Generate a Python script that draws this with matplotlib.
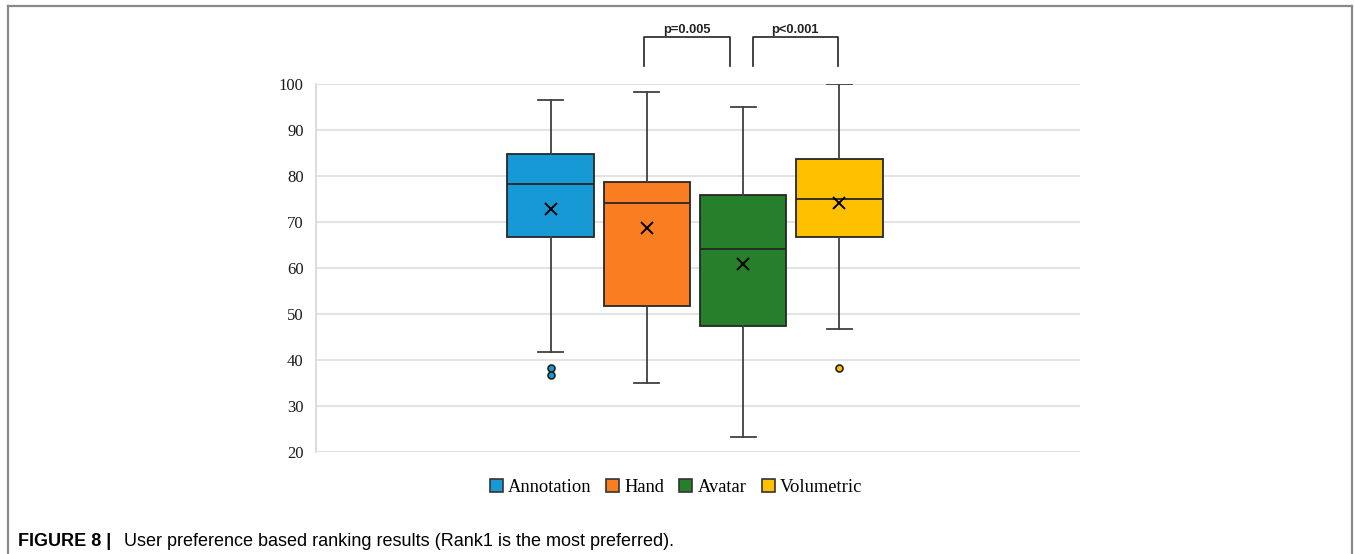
import matplotlib
matplotlib.use("Agg")
import matplotlib.pyplot as plt
from matplotlib.lines import Line2D
from matplotlib.patches import Patch

# data
categories = ["Annotation", "Hand", "Avatar", "Volumetric"]
whisker_low = [41.7, 35.0, 23.3, 46.7]
q1 = [66.7, 51.8, 47.5, 66.7]
medians = [78.3, 74.1, 64.1, 75.0]
q3 = [84.8, 78.8, 75.8, 83.7]
whisker_high = [96.5, 98.3, 95.0, 100.0]
means = [72.9, 68.8, 60.9, 74.2]
outliers = [[38.3, 36.7], [], [], [38.3]]
colors = ["#1799d6", "#fb7d22", "#267f2b", "#ffc000"]
yticks = [20, 30, 40, 50, 60, 70, 80, 90, 100]
pvalues = ["p=0.005", "p<0.001"]

fig = plt.figure(figsize=(13.54, 5.54), dpi=100)
ax = fig.add_axes([316 / 1354, 1 - 452 / 554, (1080 - 316) / 1354, (452 - 84) / 554])

positions = [1, 2, 3, 4]
stats = []
for i, name in enumerate(categories):
    stats.append({
        "label": name,
        "whislo": whisker_low[i], "q1": q1[i], "med": medians[i],
        "q3": q3[i], "whishi": whisker_high[i], "mean": means[i],
        "fliers": outliers[i],
    })

edge = "#262626"
bp = ax.bxp(stats, positions=positions, widths=0.9, patch_artist=True,
            showmeans=True, showcaps=True, showfliers=True,
            boxprops=dict(edgecolor=edge, linewidth=1.3),
            medianprops=dict(color=edge, linewidth=1.3),
            whiskerprops=dict(color="#404040", linewidth=1.3),
            capprops=dict(color="#404040", linewidth=1.3),
            meanprops=dict(marker="x", markeredgecolor="black", markersize=8, markeredgewidth=1.4),
            capwidths=0.26, zorder=3)
for patch, c in zip(bp["boxes"], colors):
    patch.set_facecolor(c)
for fl, c in zip(bp["fliers"], colors):
    fl.set(marker="o", markerfacecolor=c, markeredgecolor="#222222", markersize=5, markeredgewidth=1.2)

ax.set_xlim(-1.436, 6.498)
ax.set_ylim(20, 100)
ax.set_yticks(yticks)
ax.set_yticklabels([str(t) for t in yticks], fontfamily="Liberation Serif", fontsize=12, color="#1a1a1a")
ax.set_xticks([])
ax.tick_params(axis="y", length=0, pad=9)
for s in ["top", "right", "bottom"]:
    ax.spines[s].set_visible(False)
ax.spines["left"].set_color("#d9d9d9")
ax.spines["left"].set_linewidth(1.3)
ax.yaxis.grid(True, color="#e0e0e0", linewidth=1.3)
ax.set_axisbelow(True)

# significance brackets
brackets = [(1.97, 2.86), (3.10, 3.985)]
for (x0, x1), p in zip(brackets, pvalues):
    ax.plot([x0, x0, x1, x1], [104.0, 110.3, 110.3, 104.0], color="#222222", lw=1.2, clip_on=False)
    ax.text((x0 + x1) / 2, 111.8, p, ha="center", va="center", fontsize=9.3,
            fontweight="bold", fontfamily="Liberation Sans", color="#222222")

handles = [Patch(facecolor=c, edgecolor="#333333", linewidth=1.2) for c in colors]
fig.legend(handles, categories, loc="center", bbox_to_anchor=(676 / 1354, 1 - 487 / 554),
           ncol=4, frameon=False, prop={"family": "Liberation Serif", "size": 13.3},
           handlelength=0.7, handleheight=0.7, handletextpad=0.3, columnspacing=0.8)

# caption and frame
fig.text(18 / 1354, 1 - 541 / 554, "FIGURE 8 |", fontsize=12.95, fontweight="bold",
         fontfamily="Liberation Sans", va="center", ha="left")
fig.text(124 / 1354, 1 - 541 / 554, "User preference based ranking results (Rank1 is the most preferred).",
         fontsize=12.95, fontfamily="Liberation Sans", va="center", ha="left")
frame_c = "#8a8a8a"
fig.add_artist(Line2D([8 / 1354, 1352 / 1354], [1 - 5.5 / 554] * 2, color=frame_c, lw=1.6))
fig.add_artist(Line2D([8 / 1354] * 2, [0, 1 - 5.5 / 554], color=frame_c, lw=1.6))
fig.add_artist(Line2D([1352 / 1354] * 2, [0, 1 - 5.5 / 554], color=frame_c, lw=1.6))

fig.savefig("out.png", dpi=100)
